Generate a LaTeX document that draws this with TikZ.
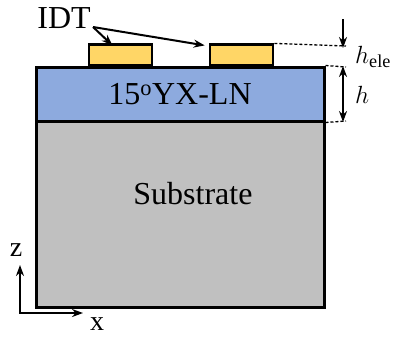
\documentclass[tikz,border=0pt]{standalone}
\usepackage{fontspec}
\setmainfont{Liberation Serif}
\usetikzlibrary{arrows.meta,positioning}
\definecolor{lnblue}{RGB}{141,170,222}
\definecolor{idtgold}{RGB}{255,214,102}
\definecolor{subgray}{RGB}{192,192,192}
\tikzset{
  layerbox/.style={draw, line width=3pt, inner sep=0pt,
    minimum width=288pt, font=\fontsize{32}{38}\selectfont},
  elecbox/.style={draw, line width=2.6pt, fill=idtgold, inner sep=0pt,
    minimum width=63pt, minimum height=21pt},
  dimline/.style={dash pattern=on 3pt off 2pt, line width=1.3pt},
  arr/.style={-{Stealth[length=11pt,width=8pt]}, line width=2pt},
  darr/.style={{Stealth[length=11pt,width=8pt]}-{Stealth[length=11pt,width=8pt]}, line width=2pt},
  bigtext/.style={font=\fontsize{32}{38}\selectfont, inner sep=0pt},
  dimtext/.style={font=\fontsize{26}{30}\selectfont, inner sep=0pt, anchor=west},
}

\begin{document}
\begin{tikzpicture}[x=1pt, y=-1pt]
  \useasboundingbox (0,0) rectangle (395,338);

  % Layers
  \node[layerbox, fill=subgray, minimum height=186pt] (sub) at (180,214) {};
  \node[layerbox, fill=lnblue, minimum height=54pt] (ln) at (180,94)
    {15\textsuperscript{o}YX-LN};
  \node[bigtext] (subtext) at (193,194) {Substrate};

  % Electrodes
  \node[elecbox, anchor=south] (eleL) at (120.5,67) {};
  \node[elecbox, anchor=south] (eleR) at (241.5,67) {};

  % IDT label and pointers
  \node[bigtext] (idt) at (64,18) {IDT};
  \coordinate (idtA) at (93,27);
  \draw[arr] (idtA) -- ([xshift=-8pt,yshift=-2pt]eleL.north);
  \draw[arr] (idtA) -- ([xshift=-4pt,yshift=-2pt]eleR.north west);

  % Thickness marks
  \coordinate (eTop) at (346,46);
  \coordinate (lTop) at (346,67);
  \coordinate (lBot) at (346,121);
  \coordinate (eArr) at (343,19);
  \draw[dimline] (eleR.north east) -- (eTop);
  \draw[dimline] (ln.north east) -- (lTop);
  \draw[dimline] (ln.south east) -- (lBot);
  \draw[arr] (eArr) -- ([xshift=-3pt,yshift=-2pt]eTop);
  \draw[darr] ([xshift=-3pt,yshift=1pt]lTop) -- ([xshift=-3pt,yshift=-1pt]lBot);
  \node[dimtext] (hele) at (355,57) {$h$\textsubscript{ele}};
  \node[dimtext] (hln) at (355,95) {$h$};

  % Axes
  \coordinate (orig) at (20,313);
  \node[font=\fontsize{28}{32}\selectfont, inner sep=0pt] (zlab) at (16,250) {z};
  \node[font=\fontsize{28}{32}\selectfont, inner sep=0pt] (xlab) at (97,324) {x};
  \draw[arr] (orig) -- (20,265);
  \draw[arr] ([xshift=-1pt]orig) -- (83,313);
\end{tikzpicture}
\end{document}
